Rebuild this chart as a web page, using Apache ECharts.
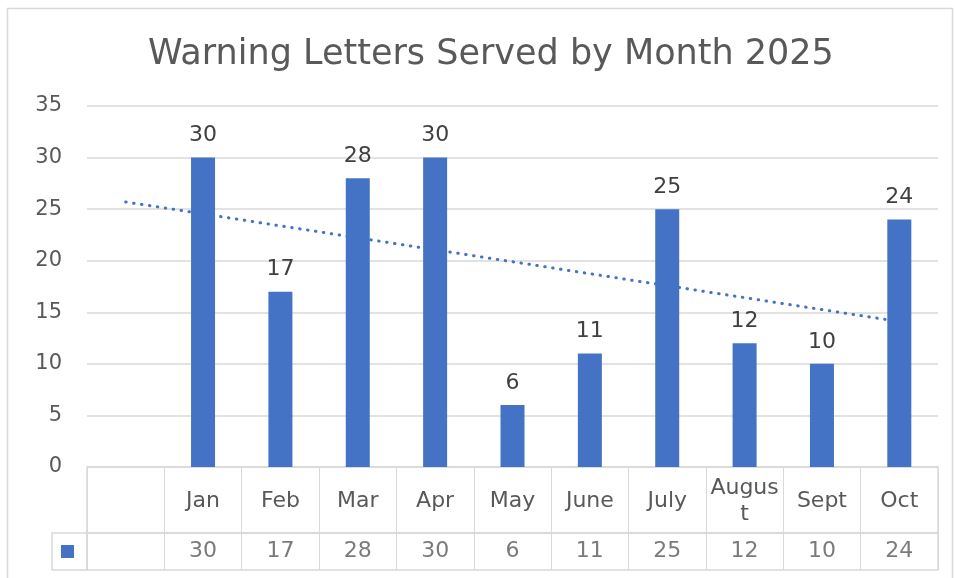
<!DOCTYPE html>
<html>
<head>
<meta charset="utf-8">
<script src="https://cdn.jsdelivr.net/npm/echarts@6/dist/echarts.min.js"></script>
<style>
  html, body { margin: 0; padding: 0; background: #fff; }
  #chart { width: 955px; height: 578px; }
</style>
</head>
<body>
<div id="chart"></div>
<script>
// first slot is the empty column of the data table
const months = ['', 'Jan', 'Feb', 'Mar', 'Apr', 'May', 'June', 'July', 'August', 'Sept', 'Oct'];
const letters = [null, 30, 17, 28, 30, 6, 11, 25, 12, 10, 24];
const yTicks = [0, 5, 10, 15, 20, 25, 30, 35];
// dotted trend line, ends
const trendStart = 25.7;
const trendEnd = 14.1;

const FONT = 'DejaVu Sans';
const BLUE = '#4472C4';
const LINE = '#d9d9d9';

const chart = echarts.init(document.getElementById('chart'));

const plainX = (gridIndex) => ({
  type: 'category',
  gridIndex: gridIndex,
  data: months,
  boundaryGap: true,
  axisLine: {show: false},
  axisTick: {show: false},
  axisLabel: {show: false},
  splitLine: {show: true, lineStyle: {color: LINE, width: 1}}
});

const option = {
  animation: false,
  textStyle: {fontFamily: FONT},
  title: {
    text: 'Warning Letters Served by Month 2025',
    left: 143,
    top: 32,
    textStyle: {fontFamily: FONT, fontSize: 35, fontWeight: 'normal', color: '#595959'}
  },
  legend: {
    data: ['Letters'],
    left: 56,
    top: 540,
    icon: 'rect',
    itemWidth: 13,
    itemHeight: 13,
    formatter: () => '',
    selectedMode: false
  },
  graphic: [{
    type: 'rect',
    shape: {x: 7.5, y: 8.5, width: 945, height: 575},
    style: {fill: 'none', stroke: LINE, lineWidth: 1.5},
    silent: true
  }],
  grid: [
    {left: 87, right: 17, top: 106, bottom: 111},
    {left: 87, right: 17, top: 467, height: 66, show: true, borderColor: LINE, borderWidth: 1.5},
    {left: 87, right: 17, top: 533, height: 37, show: true, borderColor: LINE, borderWidth: 1.5},
    {left: 52, width: 35, top: 533, height: 37, show: true, borderColor: LINE, borderWidth: 1.5}
  ],
  xAxis: [
    {
      type: 'category',
      gridIndex: 0,
      data: months,
      axisLine: {show: false},
      axisTick: {show: false},
      axisLabel: {
        interval: 0,
        margin: 34,
        verticalAlign: 'middle',
        lineHeight: 26,
        color: '#595959',
        fontSize: 22,
        fontFamily: FONT,
        formatter: (v) => v === 'August' ? 'Augus\nt' : v
      }
    },
    plainX(1),
    plainX(2),
    {type: 'category', gridIndex: 3, data: [''], show: false}
  ],
  yAxis: [
    {
      type: 'value',
      gridIndex: 0,
      min: yTicks[0],
      max: yTicks[yTicks.length - 1],
      interval: 5,
      axisLine: {show: false},
      axisTick: {show: false},
      axisLabel: {color: '#595959', fontSize: 21, margin: 25, fontFamily: FONT},
      splitLine: {lineStyle: {color: LINE, width: 1.5}}
    },
    {type: 'value', gridIndex: 1, show: false},
    {type: 'value', gridIndex: 2, min: -1, max: 1, show: false},
    {type: 'value', gridIndex: 3, show: false}
  ],
  series: [
    {
      name: 'Trend',
      type: 'line',
      xAxisIndex: 0,
      yAxisIndex: 0,
      z: 1,
      symbol: 'none',
      data: [[0, trendStart], [months.length - 1, trendEnd]],
      lineStyle: {color: BLUE, width: 3, type: [0.5, 7.5], cap: 'round'}
    },
    {
      name: 'Letters',
      type: 'bar',
      xAxisIndex: 0,
      yAxisIndex: 0,
      z: 3,
      barWidth: 24,
      data: letters,
      itemStyle: {color: BLUE},
      label: {
        show: true,
        position: 'top',
        distance: 11,
        color: '#404040',
        fontSize: 22,
        fontFamily: FONT
      }
    },
    {
      name: 'Table',
      type: 'scatter',
      xAxisIndex: 2,
      yAxisIndex: 2,
      symbolSize: 0,
      data: letters.map((v, i) => v === null ? null : [i, 0, v]),
      label: {
        show: true,
        position: 'inside',
        formatter: (p) => String(p.value[2]),
        color: '#595959',
        fontSize: 22,
        fontFamily: FONT
      }
    }
  ]
};

chart.setOption(option);
</script>
</body>
</html>
